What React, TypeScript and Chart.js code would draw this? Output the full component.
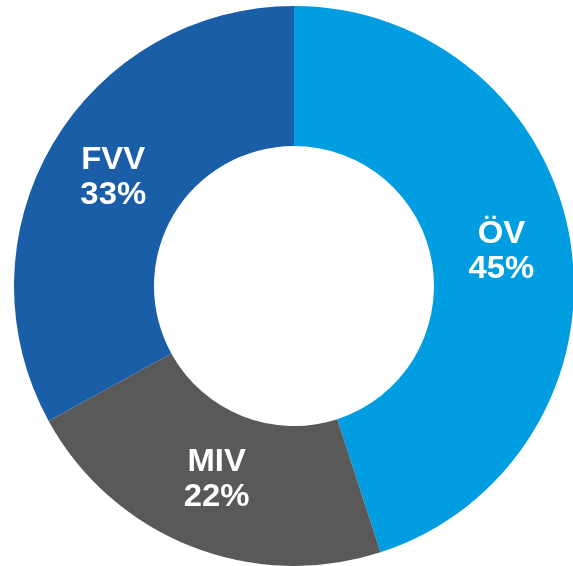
import React, { useEffect, useRef } from "react";
import { Chart, registerables } from "chart.js";

Chart.register(...registerables);

const categories = ["ÖV", "MIV", "FVV"];
const shares = [45, 22, 33];
const percentLabels = ["45%", "22%", "33%"];
const colors = ["#009ee0", "#595959", "#1b5ea8"];

const labelPlugin = {
  id: "sliceLabels",
  afterDatasetsDraw(chart: any) {
    const ctx = chart.ctx;
    const meta = chart.getDatasetMeta(0);
    ctx.save();
    ctx.fillStyle = "#ffffff";
    ctx.textAlign = "center";
    ctx.textBaseline = "middle";
    ctx.font = "bold 31px 'Liberation Sans', Arial, sans-serif";
    meta.data.forEach((arc: any, i: number) => {
      const p = arc.tooltipPosition();
      ctx.save();
      ctx.translate(p.x, p.y);
      ctx.scale(1.06, 1);
      ctx.fillText(categories[i], 0, -19);
      ctx.fillText(percentLabels[i], 0, 16);
      ctx.restore();
    });
    ctx.restore();
  },
};

export default function App() {
  const ref = useRef<HTMLCanvasElement>(null);
  useEffect(() => {
    if (!ref.current) return;
    const chart = new Chart(ref.current, {
      type: "doughnut",
      data: {
        labels: categories,
        datasets: [
          {
            data: shares,
            backgroundColor: colors,
            borderWidth: 0,
          },
        ],
      },
      options: {
        responsive: false,
        animation: false,
        cutout: "50%",
        plugins: {
          legend: { display: false },
          tooltip: { enabled: false },
        },
        layout: { padding: 0 },
      },
      plugins: [labelPlugin],
    });
    return () => chart.destroy();
  }, []);
  return (
    <div
      style={{
        position: "fixed",
        left: 0,
        top: 0,
        width: 573,
        height: 566,
        overflow: "hidden",
        background: "#ffffff",
      }}
    >
      <canvas
        ref={ref}
        width={560}
        height={560}
        style={{ position: "absolute", left: 14, top: 6, width: 560, height: 560 }}
      />
    </div>
  );
}
